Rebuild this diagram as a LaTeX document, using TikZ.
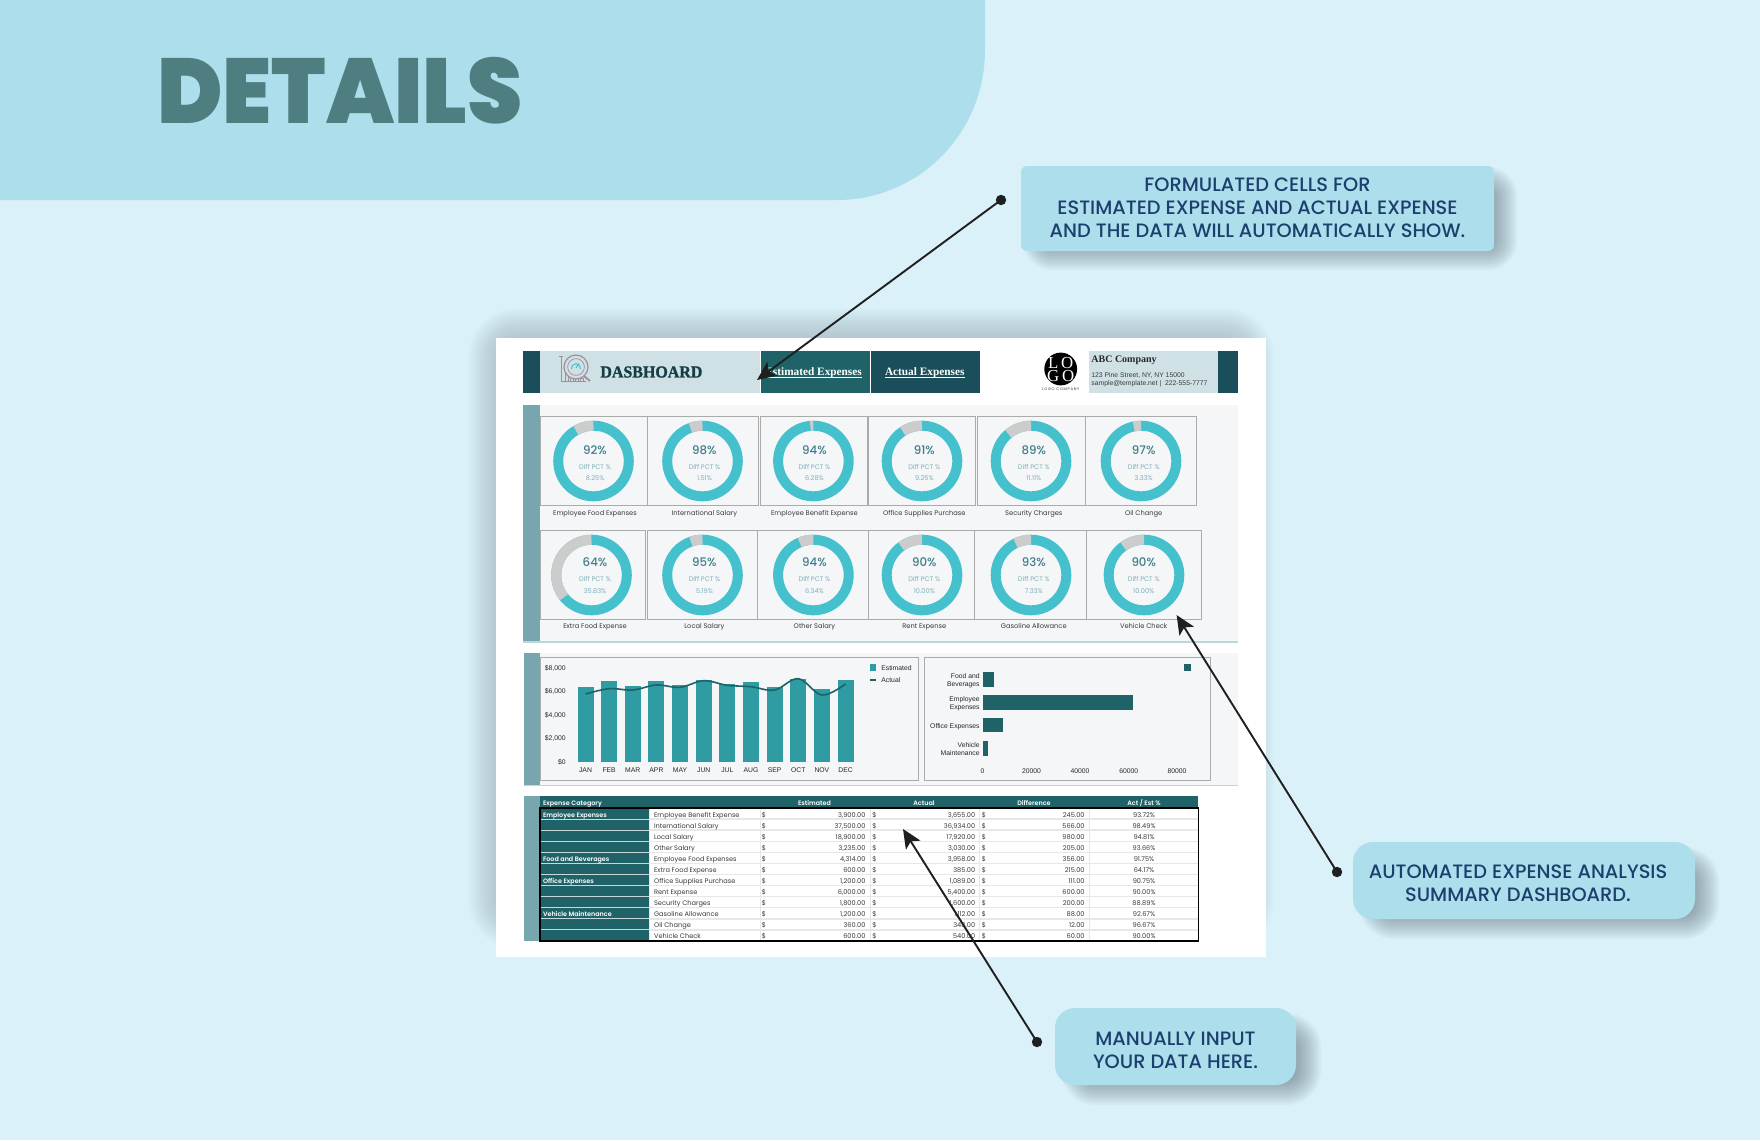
\documentclass[tikz,border=0pt]{standalone}
\usepackage{fontspec}
\usetikzlibrary{arrows.meta}
\setmainfont{Liberation Sans}
\newfontfamily\pop{Poppins}
\newfontfamily\popm{Poppins Medium}
\newfontfamily\pops{Poppins SemiBold}
\newfontfamily\popb[FakeStretch=0.96]{Poppins Black}
\newfontfamily\spc[LetterSpace=18]{Poppins}
\newfontfamily\lsans{Liberation Sans}
\newfontfamily\lserif{Liberation Serif}
\newfontfamily\hdrf[FakeBold=1.2,FakeStretch=0.95]{Liberation Serif Bold}
\definecolor{bgc}{HTML}{DAF1F9}
\definecolor{boxc}{HTML}{ACDEEB}
\definecolor{titlec}{HTML}{4F7E80}
\definecolor{navy}{HTML}{1C3F6E}
\definecolor{shc}{HTML}{44545F}
\definecolor{dark}{HTML}{1A4E5A}
\definecolor{tabc}{HTML}{1F6267}
\definecolor{lighth}{HTML}{D0E1E5}
\definecolor{panel}{HTML}{F4F6F8}
\definecolor{band}{HTML}{78A6AF}
\definecolor{pline}{HTML}{BBD7DB}
\definecolor{bord}{HTML}{ABABAB}
\definecolor{ringc}{HTML}{45C1CE}
\definecolor{ringg}{HTML}{CCCCCC}
\definecolor{pctc}{HTML}{3F7D88}
\definecolor{subc}{HTML}{7FB0B8}
\definecolor{barc}{HTML}{2F9BA3}
\definecolor{txtc}{HTML}{3A3A3A}
\definecolor{icon}{HTML}{A08F9B}
\definecolor{sepc}{HTML}{E6E8E8}
\newcommand\softshadow[7]{%
  \pgfmathtruncatemacro\bb{#5}\pgfmathtruncatemacro\cc{#5-2}\pgfmathtruncatemacro\nn{-#5}%
  \foreach \i in {\bb,\cc,...,\nn}{%
    \fill[shc,opacity=#6,rounded corners={max(1,#7+\i)*0.5pt}]
      ({#1-\i},{#2-\i}) rectangle ({#3+\i},{#4+\i});
  }}
\newcommand\donut[9]{%
  \draw[ringc,line width=5pt] (#2,#3) circle[radius=17.65pt];
  \draw[ringg,line width=5pt] plot[domain=0:#4,samples=24] ({#2-35.3*sin(\x)},{#3-35.3*cos(\x)});
  \node[pcttxt] (pct#1) at (#5,#6) {#7};
  \node[subtxt] (dif#1) at (#5,#6+17) {Diff PCT \%};
  \node[subtxt] (val#1) at (#5,#6+#8) {#9};
}
\tikzset{
  callout/.style={fill=boxc,inner sep=0pt},
  calltxt/.style={text=navy,font=\popm\fontsize{9.68}{11.6}\selectfont,align=center,inner sep=0pt},
  dotn/.style={circle,fill=black!88,inner sep=0pt,minimum size=5.2pt},
  arrowline/.style={draw=black!88,line width=.95pt,-{Stealth[length=9.5pt,width=8.5pt,inset=2.2pt]}},
  pcttxt/.style={text=pctc,font=\popm\fontsize{5.9}{6.5}\selectfont,inner sep=0pt},
  subtxt/.style={text=subc,font=\pop\fontsize{3.3}{4}\selectfont,inner sep=0pt},
  lbltxt/.style={text=txtc,font=\pop\fontsize{3.35}{4}\selectfont,inner sep=0pt,text height=2.8pt,text depth=0pt},
  chtxt/.style={text=black!85,font=\lsans\fontsize{3.4}{4}\selectfont,inner sep=0pt,text height=2.8pt,text depth=0pt},
  tbl/.style={text=txtc,font=\pop\fontsize{3.3}{4}\selectfont,inner sep=0pt,text height=2.8pt,text depth=0pt},
  tblh/.style={text=white,font=\pops\fontsize{3.2}{4}\selectfont,inner sep=0pt,text height=2.8pt,text depth=0pt},
  tabtxt/.style={text=white,font=\lserif\bfseries\fontsize{5.65}{6}\selectfont,inner sep=0pt,anchor=base},
  tabrule/.style={draw=white,line width=.3pt},
  boxb/.style={draw=bord,line width=.5pt,fill=panel},
}
\begin{document}
\begin{tikzpicture}[x=0.5pt,y=-0.5pt]
\useasboundingbox (0,0) rectangle (1760,1140);
\fill[bgc] (0,0) rectangle (1760,1140);
% banner
\fill[boxc] (0,0) -- (985,0) -- (985,50) .. controls (985,133) and (919,200) .. (837,200) -- (0,200) -- cycle;
\node[text=titlec,font=\popb\fontsize{46}{50}\selectfont,inner sep=0pt] (title) at (340,91) {DETAILS};
% sheet
\softshadow{492}{332}{1250}{925}{24}{0.017}{26}
\fill[white] (496,337.5) rectangle (1266,956.5);
% header strip
\fill[dark] (523,351) rectangle (540,392.5);
\fill[lighth] (540,351) rectangle (760,392.5);
\fill[tabc] (760.5,351) rectangle (870,392.5);
\fill[dark] (871,351) rectangle (980,392.5);
\fill[lighth] (1089,351) rectangle (1218,392.5);
\fill[dark] (1218,351) rectangle (1238,392.5);
\node[font=\hdrf\fontsize{8.4}{9}\selectfont,text=dark!80!black,inner sep=0pt,anchor=west] (dash) at (600,372) {DASBHOARD};
\node[tabtxt] (tab1) at (813.6,375.2) {Estimated Expenses};
\node[tabtxt] (tab2) at (924.7,375.2) {Actual Expenses};
\draw[tabrule] ([yshift=-1pt]tab1.base west) -- ([yshift=-1pt]tab1.base east);
\draw[tabrule] ([yshift=-1pt]tab2.base west) -- ([yshift=-1pt]tab2.base east);
% icon
\draw[icon,line width=.45pt] (561,355.5) -- (561,381.5) -- (586,381.5);
\draw[icon,line width=.45pt] (559,356) -- (562.5,356);
\foreach \xa/\ya in {565/371,570/375,575/377,580/378}{\draw[icon,line width=.4pt] (\xa,\ya) rectangle (\xa+3,381);}
\draw[icon,line width=.6pt,fill=lighth] (576,367) circle[radius=6pt];
\draw[icon,line width=.35pt] (576,367) circle[radius=4.2pt];
\draw[ringc,line width=.5pt] (571.5,369) .. controls (572,362) and (580,362) .. (580.5,369);
\draw[ringc,line width=.5pt] (576,368) -- (579,363.5);
\draw[icon,line width=.9pt] (584,376) -- (590,381);
% logo
\fill[black] (1060.7,369) circle[radius=8.2pt];
\node[text=white,font=\lserif\fontsize{8.4}{9}\selectfont,inner sep=0pt] (lo) at (1060.7,363) {L\,O};
\node[text=white,font=\lserif\fontsize{8.4}{9}\selectfont,inner sep=0pt] (go) at (1060.7,375.7) {G\,O};
\node[text=txtc,font=\spc\fontsize{1.9}{2.4}\selectfont,inner sep=0pt] (logoc) at (1060.7,388.7) {LOGO COMPANY};
\node[text=black!85,font=\lserif\bfseries\fontsize{5}{6}\selectfont,inner sep=0pt,anchor=base west] (co) at (1091,362) {ABC Company};
\node[text=txtc,font=\lsans\fontsize{3.4}{4}\selectfont,inner sep=0pt,anchor=base west] (co1) at (1091,377.2) {123 Pine Street, NY, NY 15000};
\node[text=txtc,font=\lsans\fontsize{3.4}{4}\selectfont,inner sep=0pt,anchor=base west] (co2) at (1091,385.2) {sample@template.net | ~222-555-7777};
% panel 1
\fill[panel] (540,405) rectangle (1238,642);
\fill[band] (523,405) rectangle (540,642);
\draw[pline,line width=.6pt] (523,642) -- (1238,642);
\foreach \xa/\xb in {540/647,647/758,760/867.5,868/975.5,977/1085,1085.5/1196}{\draw[boxb] (\xa,416) rectangle (\xb,505);}
\foreach \xa/\xb in {540/645,647/757.7,757.7/868.6,868.6/974.6,974.6/1086.5,1086.5/1201}{\draw[boxb] (\xa,530) rectangle (\xb,619);}
\donut{a}{593.5}{461}{30}{595}{450}{92\%}{28}{8.25\%}
\donut{b}{702.5}{461}{20}{704.4}{450}{98\%}{28}{1.51\%}
\donut{c}{813.4}{461}{5}{814.4}{450}{94\%}{28}{6.28\%}
\donut{d}{922}{461}{33}{924.3}{450}{91\%}{28}{9.25\%}
\donut{e}{1031}{461}{40}{1033.8}{450}{89\%}{28}{11.11\%}
\donut{f}{1141}{461}{12}{1143.7}{450}{97\%}{28}{3.33\%}
\donut{g}{591.5}{575}{129}{595}{562}{64\%}{29}{35.83\%}
\donut{h}{702.5}{575}{19}{704.4}{562}{95\%}{29}{5.19\%}
\donut{i}{813.4}{575}{23}{814.4}{562}{94\%}{29}{6.34\%}
\donut{j}{922}{575}{36}{924.3}{562}{90\%}{29}{10.00\%}
\donut{k}{1031}{575}{26}{1033.8}{562}{93\%}{29}{7.33\%}
\donut{l}{1144}{575}{36}{1143.7}{562}{90\%}{29}{10.00\%}
\foreach \n/\xa/\t in {a/595/Employee Food Expenses,b/704.4/International Salary,c/814.4/Employee Benefit Expense,d/924.3/Office Supplies Purchase,e/1033.8/Security Charges,f/1143.7/Oil Change}{\node[lbltxt] (lb\n) at (\xa,513) {\t};}
\foreach \n/\xa/\t in {g/595/Extra Food Expense,h/704.4/Local Salary,i/814.4/Other Salary,j/924.3/Rent Expense,k/1033.8/Gasoline Allowance,l/1143.7/Vehicle Check}{\node[lbltxt] (lb\n) at (\xa,626) {\t};}
% panel 2
\fill[panel] (540,653) rectangle (1238,785);
\fill[band] (524,653) rectangle (540,785);
\draw[pline,line width=.6pt] (524,785.5) -- (1238,785.5);
\draw[boxb] (540,657) rectangle (918,780);
\draw[boxb] (924,657) rectangle (1210,780);
\foreach \n/\ya/\t in {a/668/{\$8,000},b/691/{\$6,000},c/715/{\$4,000},d/738/{\$2,000},e/762/{\$0}}{\node[chtxt,anchor=east] (ya\n) at (566,\ya) {\t};}
\foreach \k/\mm/\top in {0/JAN/687,1/FEB/681.3,2/MAR/686,3/APR/681.3,4/MAY/685.3,5/JUN/680,6/JUL/684.3,7/AUG/682,8/SEP/687,9/OCT/679.3,10/NOV/688.7,11/DEC/680.3}{
  \pgfmathsetmacro\cx{585.5+23.64*\k}
  \fill[barc] ({\cx-8},\top) rectangle ({\cx+8},761.5);
  \node[chtxt] (mon\k) at (\cx,770) {\mm};
}
\draw[tabc,line width=.8pt] plot[smooth,tension=.6] coordinates {(585.5,694) (609.1,688.7) (632.8,690) (656.4,685) (680,687.3) (703.7,680.7) (727.3,685.3) (751,686.7) (774.6,690) (798.3,678.7) (821.9,695) (845.5,684)};
\fill[barc] (870,664) rectangle (876,671);
\draw[tabc,line width=1.2pt] (870,680) -- (876,680);
\node[chtxt,anchor=west] (lgE) at (881,667.5) {Estimated};
\node[chtxt,anchor=west] (lgA) at (881,680) {Actual};
\fill[tabc] (983,672) rectangle (994,687);
\fill[tabc] (983,695) rectangle (1132.5,710);
\fill[tabc] (983,718) rectangle (1002.7,732);
\fill[tabc] (983,741) rectangle (987.6,756);
\fill[tabc] (1184.4,664) rectangle (1191,671);
\node[chtxt,anchor=east] (c1a) at (980,675.5) {Food and};
\node[chtxt,anchor=east] (c1b) at (980,683.5) {Beverages};
\node[chtxt,anchor=east] (c2a) at (980,699) {Employee};
\node[chtxt,anchor=east] (c2b) at (980,706.5) {Expenses};
\node[chtxt,anchor=east] (c3a) at (980,726) {Office Expenses};
\node[chtxt,anchor=east] (c4a) at (980,745) {Vehicle};
\node[chtxt,anchor=east] (c4b) at (980,752.5) {Maintenance};
\foreach \xa/\t in {982.4/0,1031.5/20000,1080/40000,1128.7/60000,1177/80000}{\node[chtxt] (xa\t) at (\xa,771) {\t};}
% table
\fill[band] (523.5,796) rectangle (540,941);
\fill[tabc] (540,796) rectangle (1198.4,808);
\fill[white] (649,808) rectangle (1198.4,941);
\fill[tabc] (540,808) rectangle (649,941);
\foreach \k in {1,...,11}{
  \pgfmathsetmacro\yy{808+11.08*\k}
  \draw[sepc,line width=.7pt] (649,\yy) -- (1198.4,\yy);
  \draw[white!75!tabc,line width=.55pt] (540,\yy) -- (649,\yy);
}
\foreach \xa in {649.3,760,870.7,979.6,1089.5}{\draw[sepc,line width=.5pt] (\xa,808) -- (\xa,941);}
\draw[black,line width=.55pt] (540,808) rectangle (1198.4,941);
\node[tblh,anchor=west] (hd1) at (542.6,803) {Expense Category};
\node[tblh] (hd2) at (814.5,803) {Estimated};
\node[tblh] (hd3) at (924,803) {Actual};
\node[tblh] (hd4) at (1034,803) {Difference};
\node[tblh] (hd5) at (1144,803) {Act / Est \%};
\foreach \k/\t in {0/Employee Expenses,4/Food and Beverages,6/Office Expenses,9/Vehicle Maintenance}{
  \node[tblh,anchor=west] (cat\k) at (542.6,{814.3+11.03*\k}) {\t};
}
\foreach \k/\nm/\ee/\aa/\dd/\pp in {
0/Employee Benefit Expense/{3,900.00}/{3,655.00}/245.00/93.72,
1/International Salary/{37,500.00}/{36,934.00}/566.00/98.49,
2/Local Salary/{18,900.00}/{17,920.00}/980.00/94.81,
3/Other Salary/{3,235.00}/{3,030.00}/205.00/93.66,
4/Employee Food Expenses/{4,314.00}/{3,958.00}/356.00/91.75,
5/Extra Food Expense/600.00/385.00/215.00/64.17,
6/Office Supplies Purchase/{1,200.00}/{1,089.00}/111.00/90.75,
7/Rent Expense/{6,000.00}/{5,400.00}/600.00/90.00,
8/Security Charges/{1,800.00}/{1,600.00}/200.00/88.89,
9/Gasoline Allowance/{1,200.00}/{1,112.00}/88.00/92.67,
10/Oil Change/360.00/348.00/12.00/96.67,
11/Vehicle Check/600.00/540.00/60.00/90.00}{
  \pgfmathsetmacro\yy{814.3+11.03*\k}
  \node[tbl,anchor=west] (n\k) at (653.7,\yy) {\nm};
  \node[tbl] (s1\k) at (764,\yy) {\$};
  \node[tbl,anchor=east] (e\k) at (865.8,\yy) {\ee};
  \node[tbl] (s2\k) at (874.3,\yy) {\$};
  \node[tbl,anchor=east] (a\k) at (975.6,\yy) {\aa};
  \node[tbl] (s3\k) at (984,\yy) {\$};
  \node[tbl,anchor=east] (d\k) at (1085,\yy) {\dd};
  \node[tbl] (p\k) at (1144,\yy) {\pp\%};
}
% callouts
\softshadow{1036}{180}{1504}{257}{13}{0.042}{16}
\node[callout,rounded corners=3pt,minimum width=236.5pt,minimum height=42.5pt] (call1) at (1257.5,208.5) {};
\node[calltxt] (call1t) at (1257.5,208) {FORMULATED CELLS FOR\\ESTIMATED EXPENSE AND ACTUAL EXPENSE\\AND THE DATA WILL AUTOMATICALLY SHOW.};
\softshadow{1372}{860}{1706}{926}{13}{0.042}{22}
\node[callout,rounded corners=10pt,minimum width=171pt,minimum height=38.5pt] (call2) at (1524,880.5) {};
\node[calltxt] (call2t) at (1518,883) {AUTOMATED EXPENSE ANALYSIS\\SUMMARY DASHBOARD.};
\softshadow{1074}{1026}{1308}{1092}{13}{0.042}{22}
\node[callout,rounded corners=10pt,minimum width=120.5pt,minimum height=38.5pt] (call3) at (1175.5,1046.5) {};
\node[calltxt] (call3t) at (1175.5,1050) {MANUALLY INPUT\\YOUR DATA HERE.};
% arrows
\node[dotn] (dot1) at (1001,200) {};
\coordinate (tip1) at (757,380);
\draw[arrowline] (dot1.center) -- (tip1);
\node[dotn] (dot2) at (1337,872) {};
\coordinate (tip2) at (1176.6,615);
\draw[arrowline] (dot2.center) -- (tip2);
\node[dotn] (dot3) at (1037,1042) {};
\coordinate (tip3) at (903,829);
\draw[arrowline] (dot3.center) -- (tip3);
\end{tikzpicture}
\end{document}
